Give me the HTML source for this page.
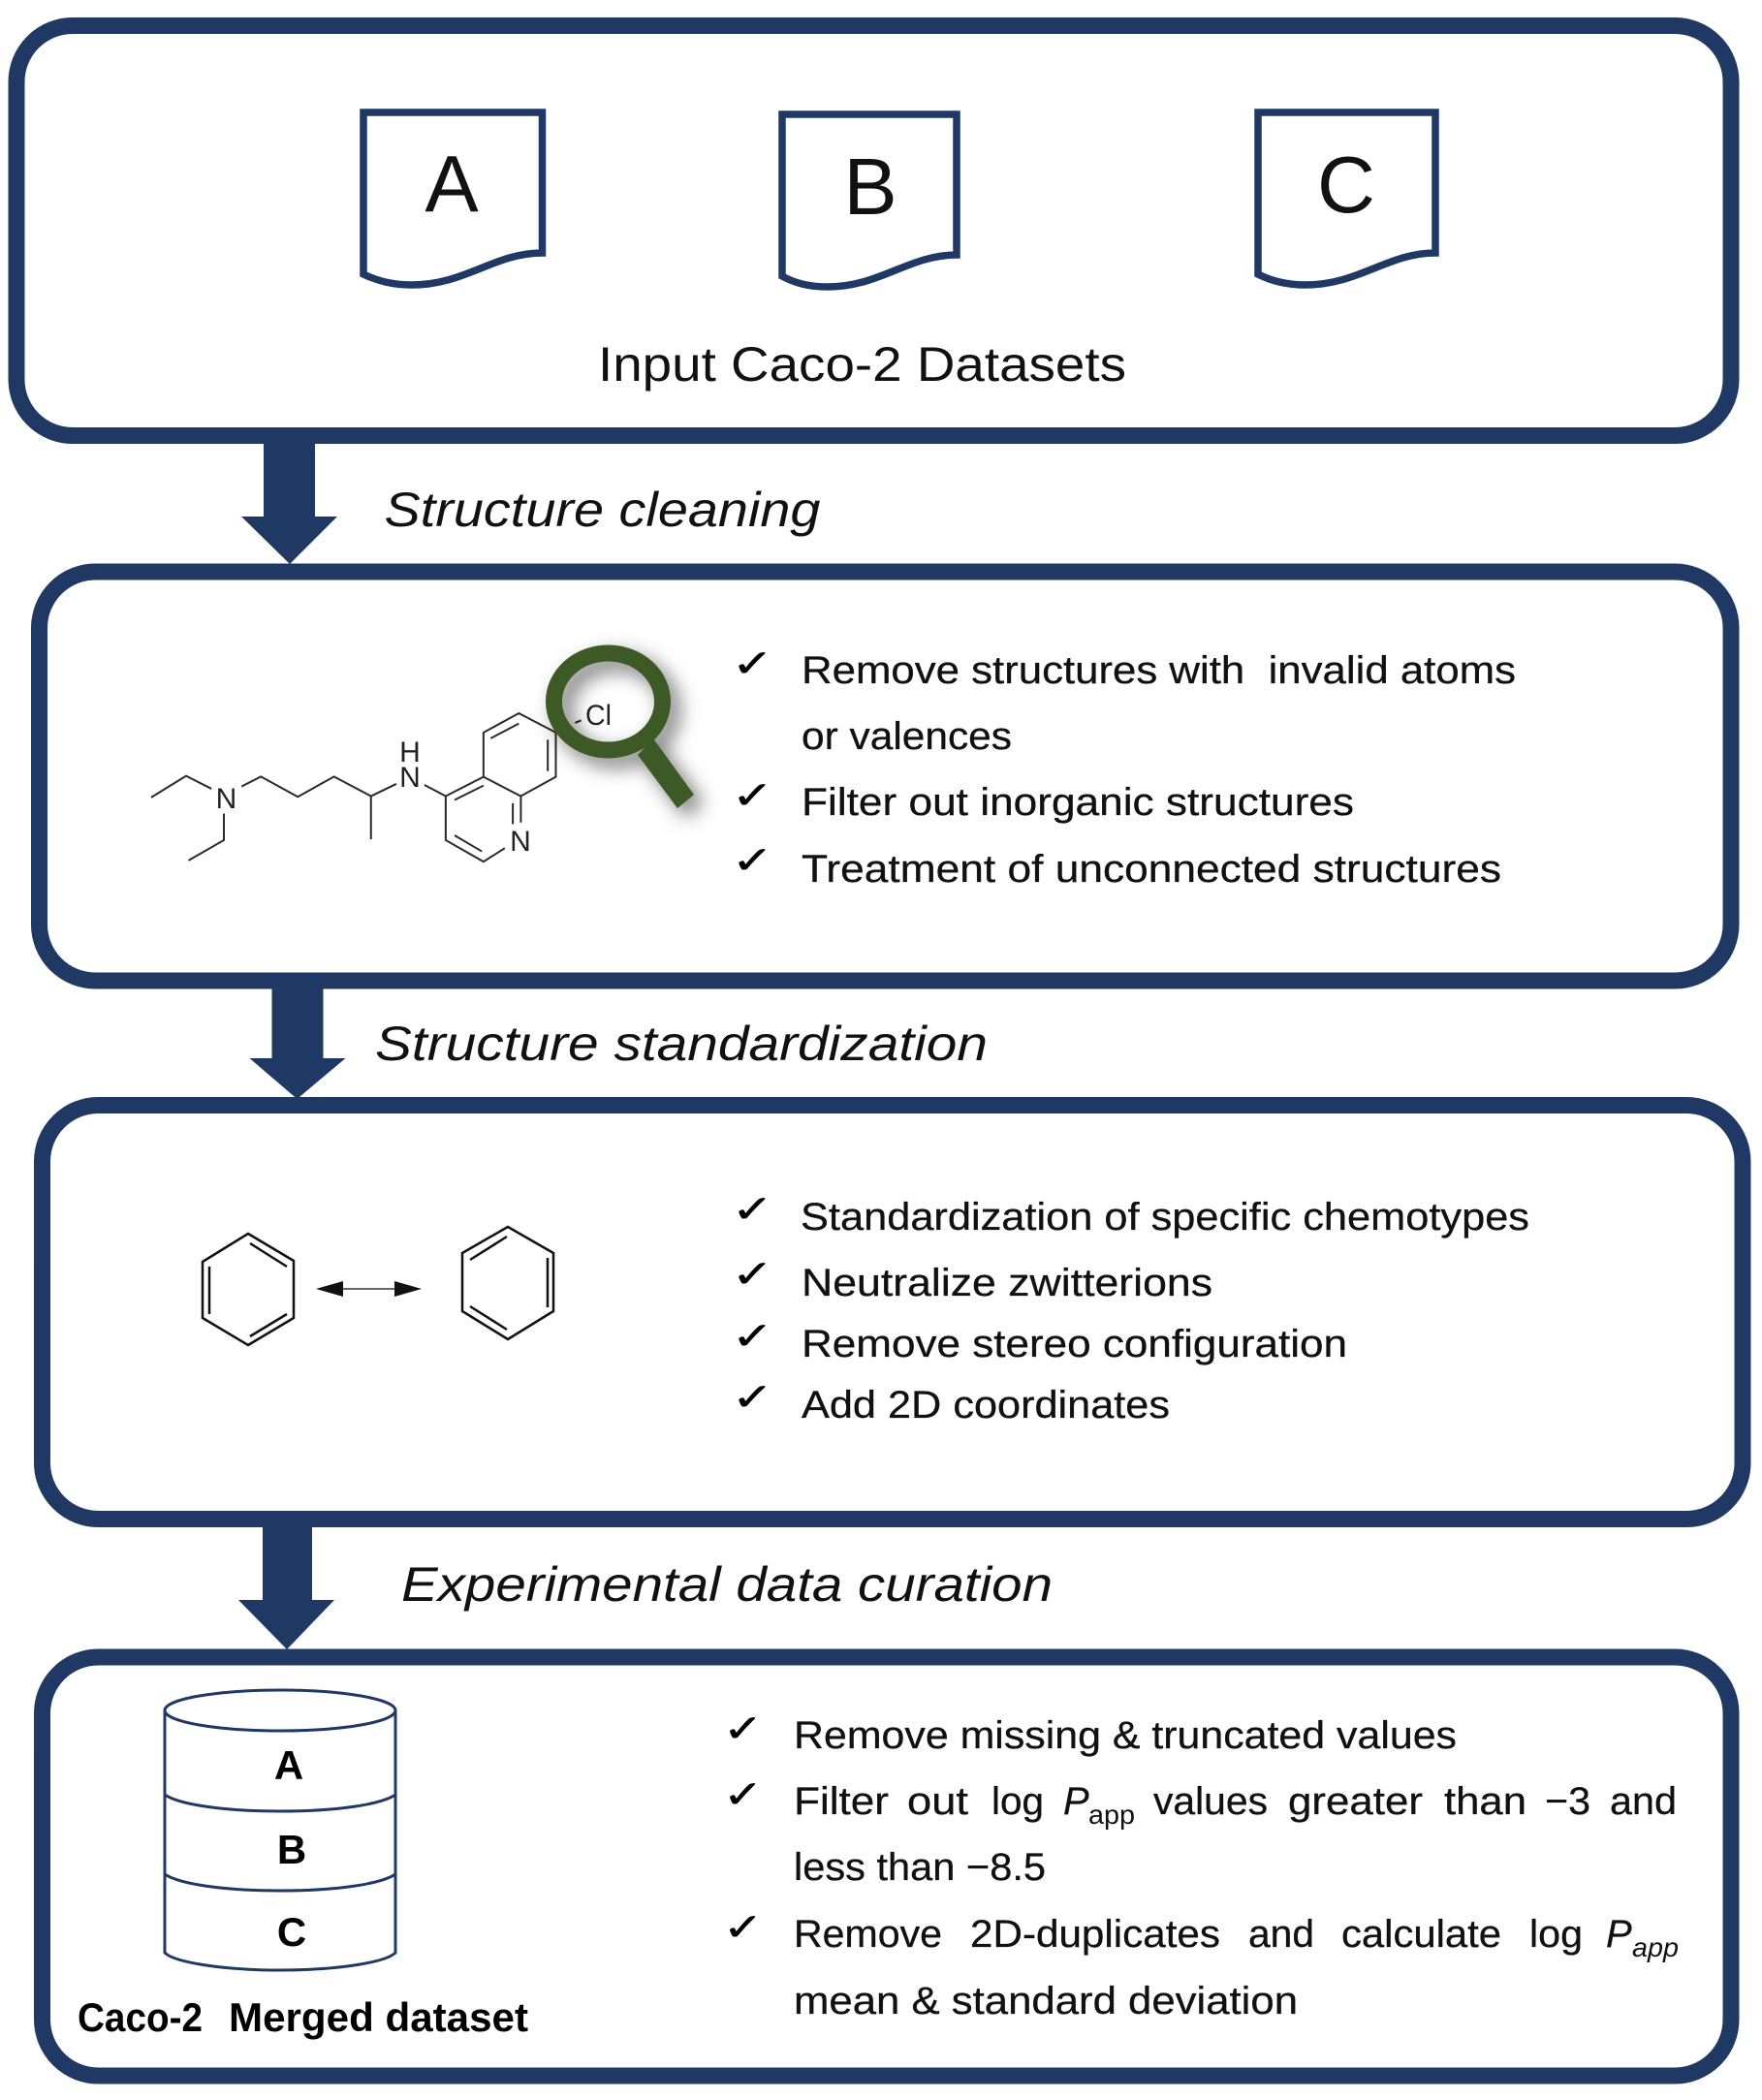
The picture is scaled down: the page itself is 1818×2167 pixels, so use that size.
<!DOCTYPE html>
<html><head><meta charset="utf-8"><style>
html,body{margin:0;padding:0;background:#fff}
svg{display:block}
text{font-family:"Liberation Sans",sans-serif;fill:#111}
.t{font-size:40px;stroke:#111;stroke-width:.3}
.h{font-size:50px}
.i{font-size:50px;font-style:italic}
.b{font-size:42px;font-weight:bold;fill:#000}
.c{font-family:"DejaVu Sans",sans-serif;font-size:38px;fill:#000;stroke:#000;stroke-width:.5}
.n{font-size:30px;fill:#222}
.m{stroke:#2a2a2a;stroke-width:2;fill:none}
.m path{vector-effect:non-scaling-stroke}
</style></head><body>
<svg xmlns="http://www.w3.org/2000/svg" width="1818" height="2167" viewBox="0 0 1818 2167">
<defs><filter id="s" x="-40%" y="-40%" width="200%" height="200%"><feDropShadow dx="9" dy="9" stdDeviation="10" flood-color="#000" flood-opacity=".55"/></filter></defs>
<rect width="1818" height="2167" fill="#fff"/>
<g fill="none" stroke="#1f3864" stroke-width="17">
<rect x="17" y="26.500" width="1769" height="423" rx="58" ry="58"/>
<rect x="40.500" y="590" width="1745.500" height="422" rx="58" ry="58"/>
<rect x="43.500" y="1140.500" width="1754.500" height="427" rx="58" ry="58"/>
<rect x="43.500" y="1710" width="1742.500" height="432" rx="58" ry="58"/>
</g>
<g fill="#1f3864">
<path d="M272,450H325V533H348L299,582L249,533H272Z"/>
<path d="M280.500,1016H333.500V1092H356.500L306.500,1134L257.500,1092H280.500Z"/>
<path d="M271,1570H322V1651H345L296,1702L246,1651H271Z"/>
</g>
<g fill="none" stroke="#1f3864" stroke-width="7.500">
<path d="M375,116H559.500V261C510,261 480,294 425,294C405,294 390,290 375,283Z"/>
<path d="M807,118H987V263C938,263 908,296 854,296C834,296 820,292 807,285Z"/>
<path d="M1298,116H1481V261C1432,261 1402,294 1347,294C1327,294 1312,290 1298,283Z"/>
</g>
<text x="466" y="218" font-size="83" text-anchor="middle" fill="#000">A</text>
<text x="898" y="221" font-size="83" text-anchor="middle" fill="#000">B</text>
<text x="1389" y="219" font-size="83" text-anchor="middle" fill="#000">C</text>
<text class="h" x="617" y="393" textLength="545" lengthAdjust="spacingAndGlyphs">Input Caco-2 Datasets</text>
<text class="i" x="396.500" y="543" textLength="450" lengthAdjust="spacingAndGlyphs">Structure cleaning</text>
<text class="i" x="387" y="1094" textLength="632" lengthAdjust="spacingAndGlyphs">Structure standardization</text>
<text class="i" x="414" y="1652" textLength="672" lengthAdjust="spacingAndGlyphs">Experimental data curation</text>

<g transform="translate(100,620) scale(.4146,.3315)" class="m">
<path d="M135,612L222,545L285,585M316,662V745L228,808M360,578L408,547L500,610L590,547L682,608V742M682,608L745,570M815,573L868,608L962,548L1055,608V690M1015,770L962,812L868,745V608M890,620L962,575M1035,630V695M890,730L958,780M962,548V410L1050,350L1142,410V548L1055,608M980,428L1050,382M1122,432V530M1190,380L1205,372"/>
</g>
<text class="n" x="233.500" y="834" text-anchor="middle">N</text>
<text class="n" x="423" y="812" text-anchor="middle">N</text>
<text class="n" x="423" y="786" text-anchor="middle">H</text>
<text class="n" x="537" y="878" text-anchor="middle">N</text>
<text class="n" x="604" y="748" textLength="27" lengthAdjust="spacingAndGlyphs">Cl</text>
<g filter="url(#s)">
<ellipse cx="627.500" cy="724" rx="56" ry="50" fill="none" stroke="#3c5a25" stroke-width="17"/>
<path d="M674,762L658,779L699,834L716,820Z" fill="#3c5a25"/>
</g>

<text class="c" transform="translate(755,698) scale(1.35,1.03)">✓</text>
<text class="c" transform="translate(755,834) scale(1.35,1.03)">✓</text>
<text class="c" transform="translate(755,901) scale(1.35,1.03)">✓</text>
<text class="c" transform="translate(755,1261) scale(1.35,1.03)">✓</text>
<text class="c" transform="translate(755,1328) scale(1.35,1.03)">✓</text>
<text class="c" transform="translate(755,1392) scale(1.35,1.03)">✓</text>
<text class="c" transform="translate(755,1455) scale(1.35,1.03)">✓</text>
<text class="c" transform="translate(746,1797) scale(1.3,1.03)">✓</text>
<text class="c" transform="translate(746,1865) scale(1.3,1.03)">✓</text>
<text class="c" transform="translate(746,2002) scale(1.3,1.03)">✓</text>

<text class="t" x="827" y="705" textLength="737" lengthAdjust="spacingAndGlyphs">Remove structures with&#160; invalid atoms</text>
<text class="t" x="827" y="773" textLength="217" lengthAdjust="spacingAndGlyphs">or valences</text>
<text class="t" x="827" y="841" textLength="570" lengthAdjust="spacingAndGlyphs">Filter out inorganic structures</text>
<text class="t" x="827" y="910" textLength="722" lengthAdjust="spacingAndGlyphs">Treatment of unconnected structures</text>

<text class="t" x="826" y="1269" textLength="752" lengthAdjust="spacingAndGlyphs">Standardization of specific chemotypes</text>
<text class="t" x="827" y="1337" textLength="424" lengthAdjust="spacingAndGlyphs">Neutralize zwitterions</text>
<text class="t" x="827" y="1400" textLength="563" lengthAdjust="spacingAndGlyphs">Remove stereo configuration</text>
<text class="t" x="827" y="1463" textLength="380" lengthAdjust="spacingAndGlyphs">Add 2D coordinates</text>

<g fill="none" stroke="#111">
<path d="M256,1273L303,1301V1360L256,1388L209,1360V1302Z" stroke-width="2.500"/>
<path d="M258,1283L296,1307M296,1356L258,1379M216,1307V1356" stroke-width="2.500"/>
<path d="M524,1266L571,1293V1353L524,1382L477,1353V1293Z" stroke-width="2.500"/>
<path d="M485,1300L523,1276M565,1298V1349M485,1348L523,1372" stroke-width="2.500"/>
<path d="M350,1330H412" stroke="#666" stroke-width="2"/>
</g>
<path d="M326,1330L354,1322V1338Z M435,1330L407,1322V1338Z" fill="#111"/>

<g fill="none" stroke="#1f3864" stroke-width="3">
<ellipse cx="289" cy="1765" rx="119" ry="21"/>
<path d="M170,1765V2015C180,2025 230,2033 289,2033C348,2033 398,2025 408,2015V1765"/>
<path d="M170,1852C185,1862 230,1869 289,1869C348,1869 393,1862 408,1852"/>
<path d="M170,1934C185,1944 230,1951 289,1951C348,1951 393,1944 408,1934"/>
</g>
<text class="b" x="298" y="1836" text-anchor="middle">A</text>
<text class="b" x="301" y="1923" text-anchor="middle">B</text>
<text class="b" x="301" y="2008" text-anchor="middle">C</text>
<text class="b" x="80" y="2096" textLength="129" lengthAdjust="spacingAndGlyphs">Caco-2</text>
<text class="b" x="236" y="2096" textLength="309" lengthAdjust="spacingAndGlyphs">Merged dataset</text>

<text class="t" x="819" y="1804" textLength="684" lengthAdjust="spacingAndGlyphs">Remove missing &amp; truncated values</text>
<text class="t" x="819" y="1872" textLength="98" lengthAdjust="spacingAndGlyphs">Filter</text>
<text class="t" x="936" y="1872" textLength="63" lengthAdjust="spacingAndGlyphs">out</text>
<text class="t" x="1023" y="1872" textLength="54" lengthAdjust="spacingAndGlyphs">log</text>
<text class="t" x="1097" y="1872" font-style="italic">P</text>
<text x="1123" y="1882" font-size="28" textLength="48" lengthAdjust="spacingAndGlyphs">app</text>
<text class="t" x="1190" y="1872" textLength="118" lengthAdjust="spacingAndGlyphs">values</text>
<text class="t" x="1329" y="1872" textLength="139" lengthAdjust="spacingAndGlyphs">greater</text>
<text class="t" x="1490" y="1872" textLength="85" lengthAdjust="spacingAndGlyphs">than</text>
<text class="t" x="1594" y="1872" textLength="47" lengthAdjust="spacingAndGlyphs">−3</text>
<text class="t" x="1661" y="1872" textLength="69" lengthAdjust="spacingAndGlyphs">and</text>
<text class="t" x="819" y="1940" textLength="260" lengthAdjust="spacingAndGlyphs">less than −8.5</text>
<text class="t" x="819" y="2009" textLength="153" lengthAdjust="spacingAndGlyphs">Remove</text>
<text class="t" x="1001" y="2009" textLength="258" lengthAdjust="spacingAndGlyphs">2D-duplicates</text>
<text class="t" x="1288" y="2009" textLength="68" lengthAdjust="spacingAndGlyphs">and</text>
<text class="t" x="1384" y="2009" textLength="165" lengthAdjust="spacingAndGlyphs">calculate</text>
<text class="t" x="1578" y="2009" textLength="55" lengthAdjust="spacingAndGlyphs">log</text>
<text class="t" x="1657" y="2009" font-style="italic">P</text>
<text x="1684" y="2019" font-size="28" font-style="italic" textLength="48" lengthAdjust="spacingAndGlyphs">app</text>
<text class="t" x="819" y="2078" textLength="520" lengthAdjust="spacingAndGlyphs">mean &amp; standard deviation</text>
</svg>
</body></html>
